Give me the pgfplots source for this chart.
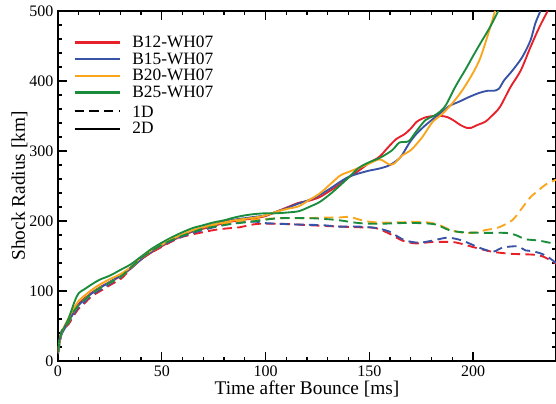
\documentclass[border=0pt]{standalone}
\usepackage{fontspec}
\setmainfont{Liberation Serif}
\usepackage{pgfplots}
\pgfplotsset{compat=1.18}
\definecolor{cR}{HTML}{E8202A}
\definecolor{cB}{HTML}{3853A6}
\definecolor{cO}{HTML}{FAA61C}
\definecolor{cG}{HTML}{1B8C3C}
\newcommand\ls{\rule[-2.75pt]{0pt}{11.75pt}}
\begin{document}
\begin{tikzpicture}
\begin{axis}[
  scale only axis, width=373.5pt, height=262.5pt,
  xmin=0, xmax=240, ymin=0, ymax=500,
  xtick={0,50,100,150,200}, ytick={0,100,200,300,400,500},
  minor x tick num=4, minor y tick num=4,
  tick align=inside, tick pos=both,
  xticklabel pos=lower, yticklabel pos=left,
  major tick length=6.5pt, minor tick length=3pt,
  axis line style={line width=1.5pt},
  every tick/.style={black, line width=1.1pt},
  /pgf/number format/assume math mode=true,
  ticklabel style={font=\fontsize{12}{14}\selectfont},
  label style={font=\fontsize{14.5}{17}\selectfont},
  xlabel={Time after Bounce [ms]},
  ylabel={Shock Radius [km]},
  xlabel style={at={(axis description cs:0.5,-0.0943)}, anchor=base},
  ylabel style={at={(axis description cs:-0.0663,0.5)}, anchor=base},
  legend style={at={(axis description cs:0,1)}, anchor=north west, xshift=11.5pt, yshift=-17.7pt,
    draw=none, fill=none, inner sep=0pt, row sep=1pt, column sep=6.5pt,
    font=\fontsize{13}{13}\selectfont,
    nodes={inner ysep=0.5pt, inner xsep=2pt}},
  legend cell align=left,
  legend image code/.code={\draw[#1, line width=1.6pt] (0pt,0pt) -- (34pt,0pt);},
  every axis plot/.append style={line width=1.4pt, line join=round},
]
% 2D solid
\addplot[cR, line width=1.4pt, smooth] coordinates {
(0,12) (1,32) (2,42) (4,52) (7,68) (10,82) (13,90) (16,97) (20,105) (25,113) (30,121) (35,132) (40,145) (45,155) (50,164) (55,172) (60,179) (65,185) (70,189) (75,193) (80,197) (85,200) (90,202) (95,204) (100,207) (105,213) (110,219) (116,226) (121,229) (126,234) (131,243) (136,253) (140,262) (145,272) (150,283) (155,292) (159,305) (163,317) (167,324) (170,332) (173,342) (177,348) (181,350) (185,350) (188,348) (191,343) (194,337) (197,333) (199,333) (202,337) (206,342) (209,350) (213,363) (218,391) (223,415) (227.5,447) (232,477) (236,500)};
\addlegendentry{\ls B12-WH07}
\addplot[cB, line width=1.4pt, smooth] coordinates {
(0,12) (1,30) (2,40) (4,50) (7,66) (10,80) (13,88) (16,96) (20,104) (25,113) (30,122) (35,132) (40,145) (45,156) (50,165) (55,173) (60,180) (65,186) (70,191) (75,195) (80,199) (85,202) (90,204) (95,206) (100,208) (105,213) (110,218) (116,225) (121,230) (126,237) (131,246) (136,256) (140,263) (145,268) (150,272) (155,275) (160,280) (165,291) (169,310) (172,322) (176,334) (180,344) (185,356) (189,365) (193,370) (198,377) (203,383) (207,386) (210,386) (212.5,389) (215,401) (219,415) (223.7,434) (227.7,458) (230,482) (232.5,500)};
\addlegendentry{\ls B15-WH07}
\addplot[cO, line width=1.4pt, smooth] coordinates {
(0,12) (1,33) (2,43) (4,55) (7,72) (10,86) (13,94) (16,101) (20,109) (25,117) (30,124) (35,134) (40,148) (45,158) (50,166) (55,174) (60,181) (65,187) (70,191) (75,195) (80,198) (85,201) (90,203) (95,205) (100,208) (105,213) (110,217) (116,221) (121,230) (126,239) (131,252) (136,265) (140,270) (145,276) (150,282) (155,288) (159.5,281) (162,282) (166,294) (170,301) (175.6,320) (180.4,341) (185.2,353) (190,368) (194.9,387) (199.7,410) (203.4,432) (207.4,468) (210.6,500)};
\addlegendentry{\ls B20-WH07}
\addplot[cG, line width=1.4pt, smooth] coordinates {
(0,14) (0.6,30) (2,42) (5,60) (8,85) (10,97) (13,103) (16,109) (20,116) (25,122) (30,130) (35,138) (40,149) (45,160) (50,169) (55,177) (60,184) (65,190) (70,194) (75,198) (80,201) (85,205) (90,208) (95,210) (100,211) (105,211) (110,212) (116,214) (121,220) (126,227) (131,238) (136,251) (140,262) (145,276) (150,284) (155,290) (161,301) (164.5,312) (169,314) (172.4,327) (177,344) (181,350) (184,356) (187,366) (191.7,393) (196.5,417) (199.7,434) (203.4,453) (208.2,477) (212.2,500)};
\addlegendentry{\ls B25-WH07}
% 1D dashed
\addplot[cR, dash pattern=on 7pt off 4pt, smooth, forget plot] coordinates {
(0,10) (1,30) (2,44) (5,52) (7,62) (10,75) (13,83) (16,92) (21,101) (26,110) (30.6,118) (35,132) (40,146) (45,155) (50,163) (55,171) (59.5,177) (65,181) (70,184) (75,187) (80,189) (87.5,191) (92,194) (97,196) (107,196) (115,195) (121,194) (128,193) (135.6,192) (145,191) (153,190) (159.6,182) (166,172) (172.4,168) (180.4,170) (190,170) (195,167) (199.7,163) (205,159) (209.3,156) (215,154) (219,153) (228.5,152) (233,150) (236,146) (240,139)};
\addplot[cB, dash pattern=on 7pt off 4pt, smooth, forget plot] coordinates {
(0,10) (1,30) (2,45) (5,54) (7,65) (10,77) (13,85) (16,94) (21,103) (26,112) (30,119) (35,133) (40,147) (45,157) (50,165) (55,172) (60,178) (65,183) (70,187) (75,191) (82.7,196) (88,198) (95.5,199) (100,197) (106.7,196) (115,195) (127.6,194) (135.6,192) (145,192) (153.2,190) (159.6,185) (163,179) (167.6,172) (174,169) (180.4,172) (186.9,176) (191,175) (194.9,172) (199,167) (202.9,162) (209.3,156) (212,159) (214.1,162) (220.5,164) (223,162) (225.3,158) (228.5,157) (233.3,153) (236,149) (240,140)};
\addplot[cO, dash pattern=on 7pt off 4pt, smooth, forget plot] coordinates {
(0,12) (1,32) (2,44) (5,55) (7,68) (10,80) (13,88) (16,96) (20,104) (25,112) (30,120) (35,133) (40,147) (45,157) (50,166) (55,174) (60,180) (65,185) (70,189) (75,193) (80,196) (85,199) (90,201) (95,202) (100,203) (106.7,204) (115,204) (121,204) (128,205) (135.6,205) (140.4,206) (145.2,202) (150,199) (154.8,198) (164.4,198) (174,199) (182,196) (188.5,188) (193.3,184) (199.7,183) (206,187) (212.5,191) (218.9,201) (222,212) (225.3,225) (228,235) (231.7,244) (235,252) (240,259)};
\addplot[cG, dash pattern=on 7pt off 4pt, smooth, forget plot] coordinates {
(0,12) (1,32) (2,44) (5,55) (7,68) (10,80) (13,88) (16,96) (20,104) (25,112) (30,120) (35,133) (40,147) (45,157) (50,166) (55,173) (60,179) (65,184) (70,189) (79.5,194) (87,197) (95.5,200) (106.7,204) (121,204) (128,203) (135.6,201) (145.2,197) (154.8,196) (164.4,197) (174,197) (182,195) (188.5,187) (194.9,184) (206,183) (215.7,183) (220.5,180) (225.3,174) (231.7,172) (240,167)};
\addlegendimage{black, line width=1.4pt, dash pattern=on 7pt off 4pt}
\addlegendentry{\rule[-2.75pt]{0pt}{14.25pt}1D}
\addlegendimage{black, line width=1.4pt}
\addlegendentry{\rule[-2.75pt]{0pt}{10.75pt}2D}
\end{axis}
\path (current axis.south west) ++(-43.5pt,-31.5pt) coordinate (bl);
\path (current axis.north east) ++(0pt,8.25pt) coordinate (tr);
\pgfresetboundingbox
\path[use as bounding box] (bl) rectangle (tr);
\end{tikzpicture}
\end{document}
